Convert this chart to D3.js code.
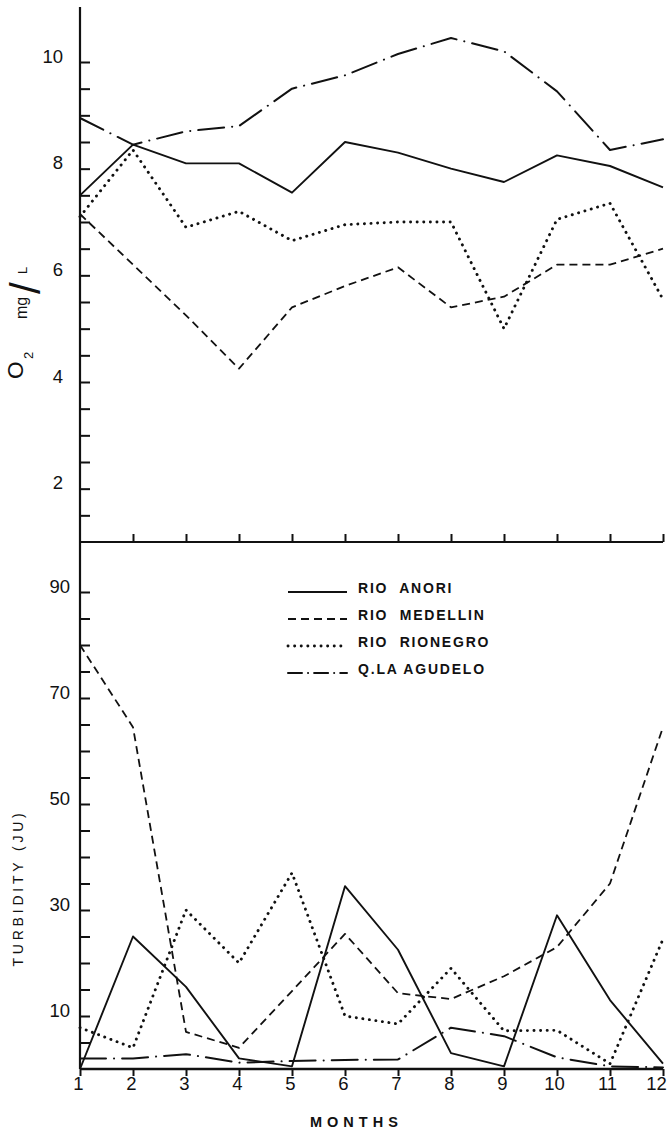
<!DOCTYPE html>
<html>
<head>
<meta charset="utf-8">
<script src="https://cdn.jsdelivr.net/npm/d3@7"></script>
<style>
  html, body { margin: 0; padding: 0; background: #fff; }
  svg { display: block; font-family: "Liberation Sans", Arial, Helvetica, sans-serif; }
</style>
</head>
<body>
<svg id="chart" width="667" height="1129"></svg>
<script>
// ---------- DATA ----------
const months = [1, 2, 3, 4, 5, 6, 7, 8, 9, 10, 11, 12];
const seriesNames = ["RIO  ANORI", "RIO  MEDELLIN", "RIO  RIONEGRO", "Q.LA AGUDELO"];

// Dissolved oxygen, mg/L
const o2Anori    = [7.5, 8.45, 8.1, 8.1, 7.55, 8.5, 8.3, 8.0, 7.75, 8.25, 8.05, 7.65];
const o2Medellin = [7.15, 6.2, 5.25, 4.25, 5.4, 5.8, 6.15, 5.4, 5.6, 6.2, 6.2, 6.5];
const o2Rionegro = [7.1, 8.35, 6.9, 7.2, 6.65, 6.95, 7.0, 7.0, 5.0, 7.05, 7.35, 5.55];
const o2Agudelo  = [8.95, 8.45, 8.7, 8.8, 9.5, 9.75, 10.15, 10.45, 10.2, 9.45, 8.35, 8.55];

// Turbidity, JU
const turbAnori    = [0, 25, 15.5, 2, 0.5, 34.5, 22.5, 3, 0.5, 29, 13, 1];
const turbMedellin = [80, 64.5, 7, 4, 14.7, 25.5, 14.3, 13.2, 17.5, 23, 35, 64.5];
const turbRionegro = [7.8, 4, 30, 20, 37, 10, 8.5, 19, 7.2, 7.3, 1, 24.5];
const turbAgudelo  = [2, 2, 2.8, 1.2, 1.5, 1.7, 1.8, 7.8, 6.2, 2.2, 0.5, 0.3];

// Ticks
const o2MajorTicks = [2, 4, 6, 8, 10];
const o2MinorTicks = [1.5, 2, 2.5, 3, 3.5, 4, 4.5, 5, 5.5, 6, 6.5, 7, 7.5, 8, 8.5, 9, 9.5, 10];
const turbMajorTicks = [10, 30, 50, 70, 90];
const turbMinorTicks = [5, 10, 15, 20, 25, 30, 35, 40, 45, 50, 55, 60, 65, 70, 75, 80, 85, 90];
const monthTicks = [1, 2, 3, 4, 5, 6, 7, 8, 9, 10, 11, 12];

// ---------- LAYOUT ----------
const svg = d3.select("#chart");
const X0 = 80, X1 = 663;
const x = d3.scaleLinear().domain([1, 12]).range([X0, X1]);
const yTop = d3.scaleLinear().domain([1, 10]).range([542, 62]);
const yBot = d3.scaleLinear().domain([0, 90]).range([1069, 592]);

const styles = [
  { dash: null, width: 1.9, cap: "butt" },                 // solid
  { dash: "8,5", width: 1.8, cap: "butt" },                // dashed
  { dash: "0.1,6.5", width: 2.9, cap: "round" },           // dotted
  { dash: "26,8,0.1,8", width: 2.0, cap: "round" }         // dash-dot
];

const black = "#111";
const numFont = 18.5;

// ---------- AXES ----------
// top panel Y axis
svg.append("line").attr("x1", X0).attr("x2", X0)
  .attr("y1", yTop(11.03)).attr("y2", yTop(1))
  .attr("stroke", black).attr("stroke-width", 2.2);

const topYAxis = d3.axisLeft(yTop)
  .tickValues(o2MinorTicks)
  .tickSize(-10)
  .tickPadding(17)
  .tickFormat(d => o2MajorTicks.includes(d) ? String(d) : "");
const gTY = svg.append("g").attr("transform", `translate(${X0},0)`).call(topYAxis);
gTY.select(".domain").remove();
gTY.selectAll(".tick line").attr("stroke", black).attr("stroke-width", 2);
gTY.selectAll(".tick text").attr("dy", "0").attr("font-size", numFont)
  .attr("font-family", "Liberation Sans, Arial, sans-serif").attr("fill", black);

// top panel X axis (ticks upward)
const topXAxis = d3.axisTop(x).tickValues(monthTicks.slice(1)).tickSize(8).tickFormat("");
const gTX = svg.append("g").attr("transform", `translate(0,${yTop(1)})`).call(topXAxis);
gTX.select(".domain").remove();
gTX.selectAll(".tick line").attr("stroke", black).attr("stroke-width", 2);
svg.append("line").attr("x1", X0).attr("x2", X1).attr("y1", yTop(1)).attr("y2", yTop(1))
  .attr("stroke", black).attr("stroke-width", 2.2);

// bottom panel Y axis
svg.append("line").attr("x1", X0).attr("x2", X0)
  .attr("y1", yTop(1)).attr("y2", yBot(0))
  .attr("stroke", black).attr("stroke-width", 2.2);
const botYAxis = d3.axisLeft(yBot)
  .tickValues(turbMinorTicks)
  .tickSize(-10)
  .tickPadding(10)
  .tickFormat(d => turbMajorTicks.includes(d) ? String(d) : "");
const gBY = svg.append("g").attr("transform", `translate(${X0},0)`).call(botYAxis);
gBY.select(".domain").remove();
gBY.selectAll(".tick line").attr("stroke", black).attr("stroke-width", 2);
gBY.selectAll(".tick text").attr("dy", "0").attr("font-size", numFont)
  .attr("font-family", "Liberation Sans, Arial, sans-serif").attr("fill", black);

// bottom panel X axis
const botXAxis = d3.axisBottom(x).tickValues(monthTicks).tickSize(7).tickFormat(d => String(d));
const gBX = svg.append("g").attr("transform", `translate(0,${yBot(0)})`).call(botXAxis);
gBX.select(".domain").remove();
gBX.selectAll(".tick line").attr("stroke", black).attr("stroke-width", 2);
gBX.selectAll(".tick text").attr("y", 21).attr("dy", "0")
  .attr("dx", d => d === 12 ? -7 : (d >= 10 ? -3 : -2))
  .attr("font-size", numFont).attr("font-family", "Liberation Sans, Arial, sans-serif").attr("fill", black);
svg.append("line").attr("x1", X0).attr("x2", X1).attr("y1", yBot(0)).attr("y2", yBot(0))
  .attr("stroke", black).attr("stroke-width", 2.4);

// ---------- LINES ----------
function drawSeries(values, yScale, st) {
  const line = d3.line().x((d, i) => x(months[i])).y(d => yScale(d));
  const p = svg.append("path").datum(values)
    .attr("d", line)
    .attr("fill", "none")
    .attr("stroke", black)
    .attr("stroke-width", st.width)
    .attr("stroke-linecap", st.cap)
    .attr("stroke-linejoin", "round");
  if (st.dash) p.attr("stroke-dasharray", st.dash);
}
[o2Anori, o2Medellin, o2Rionegro, o2Agudelo].forEach((s, i) => drawSeries(s, yTop, styles[i]));
[turbAnori, turbMedellin, turbRionegro, turbAgudelo].forEach((s, i) => drawSeries(s, yBot, styles[i]));

// ---------- LEGEND ----------
const legY = [593, 620, 647, 674];
const leg = svg.append("g");
seriesNames.forEach((name, i) => {
  const st = styles[i];
  const l = leg.append("line")
    .attr("x1", 288).attr("x2", 347)
    .attr("y1", legY[i] - 1).attr("y2", legY[i] - 1)
    .attr("stroke", black).attr("stroke-width", st.width)
    .attr("stroke-linecap", st.cap);
  if (st.dash) l.attr("stroke-dasharray", i === 3 ? "14,6,0.1,6" : st.dash);
  leg.append("text")
    .attr("x", 358).attr("y", legY[i])
    .attr("font-size", 14).attr("font-weight", "bold")
    .attr("letter-spacing", 1.8)
    .attr("fill", black)
    .attr("xml:space", "preserve")
    .style("white-space", "pre")
    .text(name);
});

// ---------- AXIS TITLES ----------
// O2 mg/L (rotated)
const o2t = svg.append("text")
  .attr("transform", "rotate(-90)")
  .attr("fill", black)
  .attr("font-family", "Liberation Sans, Arial, sans-serif");
o2t.append("tspan").attr("x", -379).attr("y", 23).attr("font-size", 22.5).text("O");
o2t.append("tspan").attr("x", -359).attr("y", 33).attr("font-size", 13).text("2");
o2t.append("tspan").attr("x", -319).attr("y", 27).attr("font-size", 16).text("mg");
o2t.append("tspan").attr("x", -294).attr("y", 40).attr("font-size", 42).text("/");
o2t.append("tspan").attr("x", -274).attr("y", 27).attr("font-size", 13).text("L");

// TURBIDITY (JU)
svg.append("text")
  .attr("transform", "translate(23,888) rotate(-90)")
  .attr("text-anchor", "middle")
  .attr("font-size", 14)
  .attr("letter-spacing", 3.8)
  .attr("fill", black)
  .text("TURBIDITY (JU)");

// MONTHS
svg.append("text")
  .attr("x", 310).attr("y", 1127)
  .attr("font-size", 14.5)
  .attr("font-weight", "bold")
  .attr("letter-spacing", 5)
  .attr("fill", black)
  .text("MONTHS");
</script>
</body>
</html>
